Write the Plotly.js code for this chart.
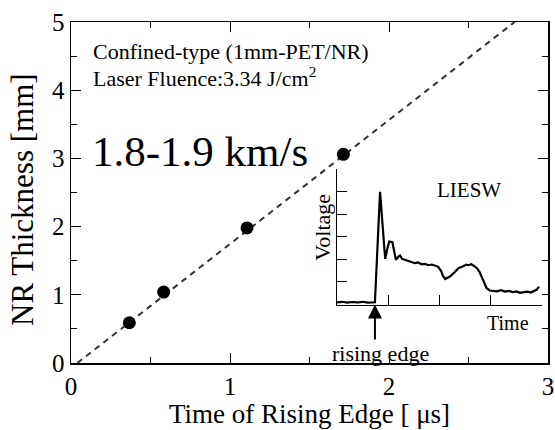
<!DOCTYPE html>
<html>
<head>
<meta charset="utf-8">
<script src="https://cdn.plot.ly/plotly-3.0.1.min.js"></script>
<style>html,body{margin:0;padding:0;background:#fff;}#chart{width:555px;height:430px;}</style>
</head>
<body>
<div id="chart"></div>
<script>
// Main chart data
const riseTime = [0.367, 0.583, 1.107, 1.713];          // µs
const nrThickness = [0.59, 1.04, 1.98, 3.06];           // mm
const fitTime = [0.04, 2.79];
const fitThickness = [0, 5];

// Inset waveform (arbitrary units: time 0-4, voltage 0-6)
const waveTime = [0, 0.10, 0.20, 0.30, 0.40, 0.50, 0.60, 0.70, 0.74, 0.84, 0.94, 0.99, 1.02, 1.08, 1.15, 1.20, 1.23, 1.27, 1.33, 1.40, 1.47, 1.52, 1.58, 1.65, 1.72, 1.78, 1.85, 1.91, 1.97, 2.03, 2.07, 2.11, 2.16, 2.21, 2.29, 2.37, 2.45, 2.52, 2.56, 2.62, 2.68, 2.73, 2.78, 2.82, 2.87, 2.92, 2.98, 3.05, 3.12, 3.20, 3.28, 3.35, 3.43, 3.50, 3.57, 3.65, 3.72, 3.78, 3.85, 3.90, 3.94];
const waveVoltage = [0.09, 0.12, 0.08, 0.11, 0.09, 0.12, 0.08, 0.10, 0.10, 4.99, 2.02, 2.55, 2.79, 2.76, 1.98, 2.12, 2.17, 2.02, 1.98, 1.92, 1.88, 1.83, 1.86, 1.78, 1.80, 1.74, 1.77, 1.72, 1.68, 1.49, 1.25, 1.13, 1.18, 1.25, 1.42, 1.61, 1.68, 1.76, 1.74, 1.78, 1.70, 1.61, 1.45, 1.24, 0.95, 0.72, 0.62, 0.60, 0.58, 0.63, 0.57, 0.60, 0.55, 0.58, 0.52, 0.55, 0.57, 0.53, 0.60, 0.66, 0.79];
const risingEdgeTime = 0.74;

const FONT = 'Liberation Serif';

const traces = [
  {x: fitTime, y: fitThickness, type: 'scatter', mode: 'lines',
   line: {color: '#333', width: 2, dash: '6px,5px'}, xaxis: 'x', yaxis: 'y', hoverinfo: 'skip'},
  {x: riseTime, y: nrThickness, type: 'scatter', mode: 'markers',
   marker: {color: '#000', size: 13}, xaxis: 'x', yaxis: 'y'},
  {x: waveTime, y: waveVoltage, type: 'scatter', mode: 'lines',
   line: {color: '#000', width: 2.2}, xaxis: 'x2', yaxis: 'y2'}
];

const px2x = px => (px - 71) / 477;
const px2y = py => (363 - py) / 341;

const layout = {
  width: 555, height: 430,
  margin: {l: 71, r: 7, t: 22, b: 67},
  paper_bgcolor: '#fff', plot_bgcolor: '#fff',
  showlegend: false,
  font: {family: FONT, color: '#000'},
  xaxis: {
    range: [0, 3], dtick: 1, tick0: 0,
    ticks: 'inside', ticklen: 10, tickwidth: 1, tickcolor: '#000',
    minor: {dtick: 0.5, ticks: 'inside', ticklen: 6, tickwidth: 1, tickcolor: '#000'},
    showline: true, linecolor: '#000', linewidth: 1.5, mirror: 'ticks',
    showgrid: false, zeroline: false,
    tickfont: {family: FONT, size: 25, color: '#000'},
    title: {text: 'Time of Rising Edge [ μs]', font: {family: FONT, size: 27, color: '#000'}, standoff: 4}
  },
  yaxis: {
    range: [0, 5], dtick: 1, tick0: 0,
    ticks: 'inside', ticklen: 10, tickwidth: 1, tickcolor: '#000',
    minor: {dtick: 0.5, ticks: 'inside', ticklen: 6, tickwidth: 1, tickcolor: '#000'},
    showline: true, linecolor: '#000', linewidth: 1.5, mirror: 'ticks',
    showgrid: false, zeroline: false,
    tickfont: {family: FONT, size: 25, color: '#000'}
  },
  xaxis2: {
    domain: [px2x(337), px2x(542)], anchor: 'y2',
    range: [0, 4], dtick: 1, tick0: 0,
    ticks: 'inside', ticklen: 10, tickwidth: 1, tickcolor: '#000',
    showticklabels: false, showline: true, linecolor: '#000', linewidth: 1.5,
    showgrid: false, zeroline: false
  },
  yaxis2: {
    domain: [px2y(304.5), px2y(169)], anchor: 'x2',
    range: [0, 6], dtick: 1, tick0: 0,
    ticks: 'inside', ticklen: 10, tickwidth: 1, tickcolor: '#000',
    showticklabels: false, showline: true, linecolor: '#000', linewidth: 1.5,
    showgrid: false, zeroline: false
  },
  annotations: [
    {text: 'NR Thickness [mm]', xref: 'paper', yref: 'paper', x: px2x(22), y: px2y(200), textangle: -90,
     xanchor: 'center', yanchor: 'middle', showarrow: false, font: {family: FONT, size: 31, color: '#000'}},
    {text: 'Confined-type (1mm-PET/NR)', xref: 'paper', yref: 'paper', x: px2x(91), y: px2y(51),
     xanchor: 'left', yanchor: 'middle', showarrow: false, font: {family: FONT, size: 22, color: '#000'}},
    {text: 'Laser Fluence:3.34 J/cm<sup>2</sup>', xref: 'paper', yref: 'paper', x: px2x(91), y: px2y(77),
     xanchor: 'left', yanchor: 'middle', showarrow: false, font: {family: FONT, size: 22, color: '#000'}},
    {text: '1.8-1.9 km/s', xref: 'paper', yref: 'paper', x: px2x(90), y: px2y(151),
     xanchor: 'left', yanchor: 'middle', showarrow: false, font: {family: FONT, size: 43, color: '#000'}},
    {text: 'LIESW', xref: 'paper', yref: 'paper', x: px2x(469), y: px2y(190),
     xanchor: 'center', yanchor: 'middle', showarrow: false, font: {family: FONT, size: 21, color: '#000'}},
    {text: 'Voltage', xref: 'paper', yref: 'paper', x: px2x(321.7), y: px2y(227), textangle: -90,
     xanchor: 'center', yanchor: 'middle', showarrow: false, font: {family: FONT, size: 22, color: '#000'}},
    {text: 'Time', xref: 'paper', yref: 'paper', x: px2x(507.5), y: px2y(323),
     xanchor: 'center', yanchor: 'middle', showarrow: false, font: {family: FONT, size: 20, color: '#000'}},
    {text: '&nbsp;&nbsp;rising edge', xref: 'x2', yref: 'y2', x: risingEdgeTime, y: 0, ax: 0, ay: 49,
     showarrow: true, arrowhead: 2, arrowsize: 1.4, arrowwidth: 2, arrowcolor: '#000', standoff: 0,
     font: {family: FONT, size: 22, color: '#000'}}
  ]
};

Plotly.newPlot('chart', traces, layout, {staticPlot: true, displayModeBar: false});
</script>
</body>
</html>
